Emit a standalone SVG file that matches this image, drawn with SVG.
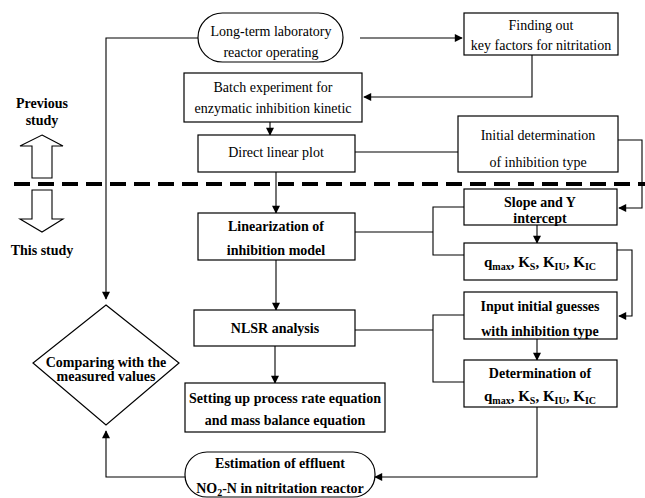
<svg xmlns="http://www.w3.org/2000/svg" width="645" height="498" viewBox="0 0 645 498">
<defs>
<style>
.box{fill:#fff;stroke:#000;stroke-width:1.2}
.t{font-family:"Liberation Serif","Times New Roman",serif;font-size:14px;fill:#000;text-anchor:middle}
.b{font-weight:bold}
.q{font-size:15px}
.sub{font-size:10px}
.c{fill:none;stroke:#000;stroke-width:1.1}
.hollow{fill:#fff;stroke:#000;stroke-width:1.1}
</style>
<marker id="ah" viewBox="0 0 10 10" refX="9" refY="5" markerWidth="9" markerHeight="8" markerUnits="userSpaceOnUse" orient="auto">
<path d="M0,0 L10,5 L0,10 z" fill="#000"/>
</marker>
</defs>
<rect width="645" height="498" fill="#fff"/>

<g id="connectors">
<polyline class="c" points="198,38 106,38 106,299" marker-end="url(#ah)"/>
<line class="c" x1="360" y1="38" x2="462" y2="38" marker-end="url(#ah)"/>
<polyline class="c" points="532,55 532,97 364,97" marker-end="url(#ah)"/>
<line class="c" x1="270" y1="122" x2="270" y2="135" marker-end="url(#ah)"/>
<line class="c" x1="355" y1="152" x2="458" y2="152"/>
<polyline class="c" points="618,140 642,140 642,208 619,208" marker-end="url(#ah)"/>
<line class="c" x1="276" y1="172" x2="276" y2="213" marker-end="url(#ah)"/>
<line class="c" x1="355" y1="232" x2="433" y2="232"/>
<polyline class="c" points="464,207 433,207 433,255 464,255"/>
<line class="c" x1="537" y1="225" x2="537" y2="243" marker-end="url(#ah)"/>
<polyline class="c" points="617,250 632,250 632,316 619,316" marker-end="url(#ah)"/>
<line class="c" x1="276" y1="260" x2="276" y2="310" marker-end="url(#ah)"/>
<line class="c" x1="355" y1="330" x2="433" y2="330"/>
<polyline class="c" points="464,315 433,315 433,382 464,382"/>
<line class="c" x1="537" y1="339" x2="537" y2="360" marker-end="url(#ah)"/>
<line class="c" x1="275" y1="346" x2="275" y2="383" marker-end="url(#ah)"/>
<polyline class="c" points="537,407 537,477 375,477" marker-end="url(#ah)"/>
<polyline class="c" points="185,477 106,477 106,431" marker-end="url(#ah)"/>
</g>

<g id="divider">
<line x1="14" y1="184" x2="645" y2="184" stroke="#000" stroke-width="4" stroke-dasharray="16 8"/>
<polygon class="hollow" points="42,135 63,146 52,146 52,178 32,178 32,146 20,146"/>
<polygon class="hollow" points="32,190 52,190 52,219 63,219 42,232 20,219 32,219"/>
<text class="t b" x="42" y="108">Previous</text>
<text class="t b" x="42" y="125">study</text>
<text class="t b" x="42" y="255">This study</text>
</g>

<g id="n-longterm">
<rect class="box" x="198" y="13" width="145" height="49" rx="24.5" ry="24.5"/>
<text class="t" x="271" y="36">Long-term laboratory</text>
<text class="t" x="271" y="57">reactor operating</text>
</g>

<g id="n-finding">
<rect class="box" x="464" y="13" width="154" height="42"/>
<text class="t" x="541" y="30">Finding out</text>
<text class="t" x="541" y="50">key factors for nitritation</text>
</g>

<g id="n-batch">
<rect class="box" x="184" y="73" width="178" height="49"/>
<text class="t" x="273" y="92">Batch experiment for</text>
<text class="t" x="273" y="113">enzymatic inhibition kinetic</text>
</g>

<g id="n-direct">
<rect class="box" x="198" y="135" width="157" height="37"/>
<text class="t" x="276" y="157">Direct linear plot</text>
</g>

<g id="n-initial">
<rect class="box" x="458" y="116" width="160" height="56"/>
<text class="t" x="538" y="140">Initial determination</text>
<text class="t" x="538" y="167">of inhibition type</text>
</g>

<g id="n-linearization">
<rect class="box" x="198" y="213" width="157" height="47"/>
<text class="t b" x="276" y="231">Linearization of</text>
<text class="t b" x="276" y="255">inhibition model</text>
</g>

<g id="n-slope">
<rect class="box" x="464" y="189" width="153" height="36"/>
<text class="t b" x="540" y="207">Slope and Y</text>
<text class="t b" x="540" y="223">intercept</text>
</g>

<g id="n-params1">
<rect class="box" x="464" y="243" width="153" height="37"/>
<text class="t b q" x="540" y="267">q<tspan class="sub" dy="3">max</tspan><tspan dy="-3">, K</tspan><tspan class="sub" dy="3">S</tspan><tspan dy="-3">, K</tspan><tspan class="sub" dy="3">IU</tspan><tspan dy="-3">, K</tspan><tspan class="sub" dy="3">IC</tspan></text>
</g>

<g id="n-input">
<rect class="box" x="464" y="292" width="153" height="47"/>
<text class="t b" x="540" y="311">Input initial guesses</text>
<text class="t b" x="540" y="336">with inhibition type</text>
</g>

<g id="n-nlsr">
<rect class="box" x="194" y="310" width="161" height="36"/>
<text class="t b" x="275" y="333">NLSR analysis</text>
</g>

<g id="n-determination">
<rect class="box" x="464" y="360" width="153" height="47"/>
<text class="t b" x="540" y="378">Determination of</text>
<text class="t b q" x="540" y="401">q<tspan class="sub" dy="3">max</tspan><tspan dy="-3">, K</tspan><tspan class="sub" dy="3">S</tspan><tspan dy="-3">, K</tspan><tspan class="sub" dy="3">IU</tspan><tspan dy="-3">, K</tspan><tspan class="sub" dy="3">IC</tspan></text>
</g>

<g id="n-setting">
<rect class="box" x="185" y="383" width="200" height="49"/>
<text class="t b" x="285" y="403">Setting up process rate equation</text>
<text class="t b" x="285" y="425">and mass balance equation</text>
</g>

<g id="n-estimation">
<rect class="box" x="185" y="452" width="190" height="45" rx="22" ry="22"/>
<text class="t b" x="280" y="468">Estimation of  effluent</text>
<text class="t b" x="280" y="493">NO<tspan class="sub" dy="3">2</tspan><tspan dy="-3">-N in nitritation reactor</tspan></text>
</g>

<g id="n-compare">
<polygon class="box" points="106,305 179,363 106,425 33,363"/>
<text class="t b" x="106" y="367">Comparing with the</text>
<text class="t b" x="106" y="381">measured values</text>
</g>
</svg>
